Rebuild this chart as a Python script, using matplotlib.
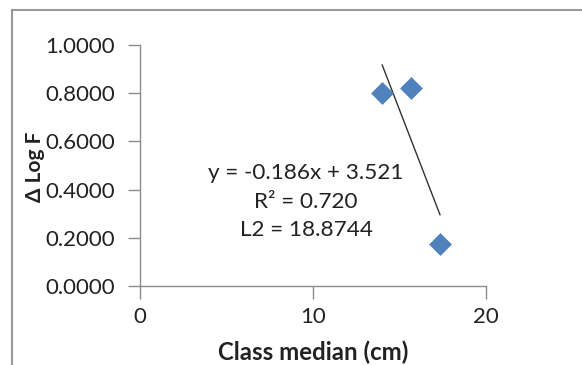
import matplotlib
matplotlib.use("Agg")
import matplotlib.pyplot as plt
from matplotlib.patches import Rectangle
import numpy as np

x_vals = [14.0, 15.65, 17.34]
y_vals = [0.80, 0.82, 0.173]
slope = -0.186
intercept = 3.521
eq_lines = ["y = -0.186x + 3.521", "R² = 0.720", "L2 = 18.8744"]
x_ticks = [0, 10, 20]
y_ticks = [0.0, 0.2, 0.4, 0.6, 0.8, 1.0]

plt.rcParams['font.family'] = ['Lato', 'DejaVu Sans']

W, H = 582, 365
fig = plt.figure(figsize=(W/100, H/100), dpi=100)
fig.patch.set_facecolor('white')
ax = fig.add_axes([140/W, 1-286/H, (486-140)/W, (286-45)/H])

gray = '#8c8c8c'
ax.scatter(x_vals, y_vals, marker='D', s=135, color='#4f81bd', zorder=3, linewidths=0)
xl = np.array([min(x_vals), max(x_vals)])
ax.plot(xl, slope*xl + intercept, color='#333333', lw=1.0, zorder=2)

ax.set_xlim(0, 20)
ax.set_ylim(0, 1.0)
ax.set_xticks(x_ticks)
ax.set_yticks(y_ticks)
ax.set_yticklabels([f"{v:.4f}" for v in y_ticks])
ax.tick_params(axis='both', direction='out', length=9, width=1, color=gray,
               labelsize=16, labelcolor='#222222', pad=9)
ax.tick_params(axis='x', pad=6)
for s in ['top', 'right']:
    ax.spines[s].set_visible(False)
for s in ['left', 'bottom']:
    ax.spines[s].set_color(gray)
    ax.spines[s].set_linewidth(1)
ax.set_facecolor('white')

for line, yp in zip(eq_lines, [173, 202, 230]):
    fig.text(306/W, 1-yp/H, line, ha='center', va='center',
             fontsize=16.2, color='#222222')

fig.text(313/W, 1-352/H, "Class median (cm)", ha='center', va='center',
         fontsize=17.3, fontweight='bold', color='#222222')
fig.text(35/W, 1-167/H, "Δ Log F", ha='center', va='center', rotation=90,
         fontsize=15, fontweight='bold', color='#222222')

fig.patches.append(Rectangle((12/W, -0.1), 1.2, 1-10/H+0.1, transform=fig.transFigure,
                             fill=False, edgecolor='#999999', lw=1.5, figure=fig))

fig.savefig("out.png", dpi=100, facecolor='white')
